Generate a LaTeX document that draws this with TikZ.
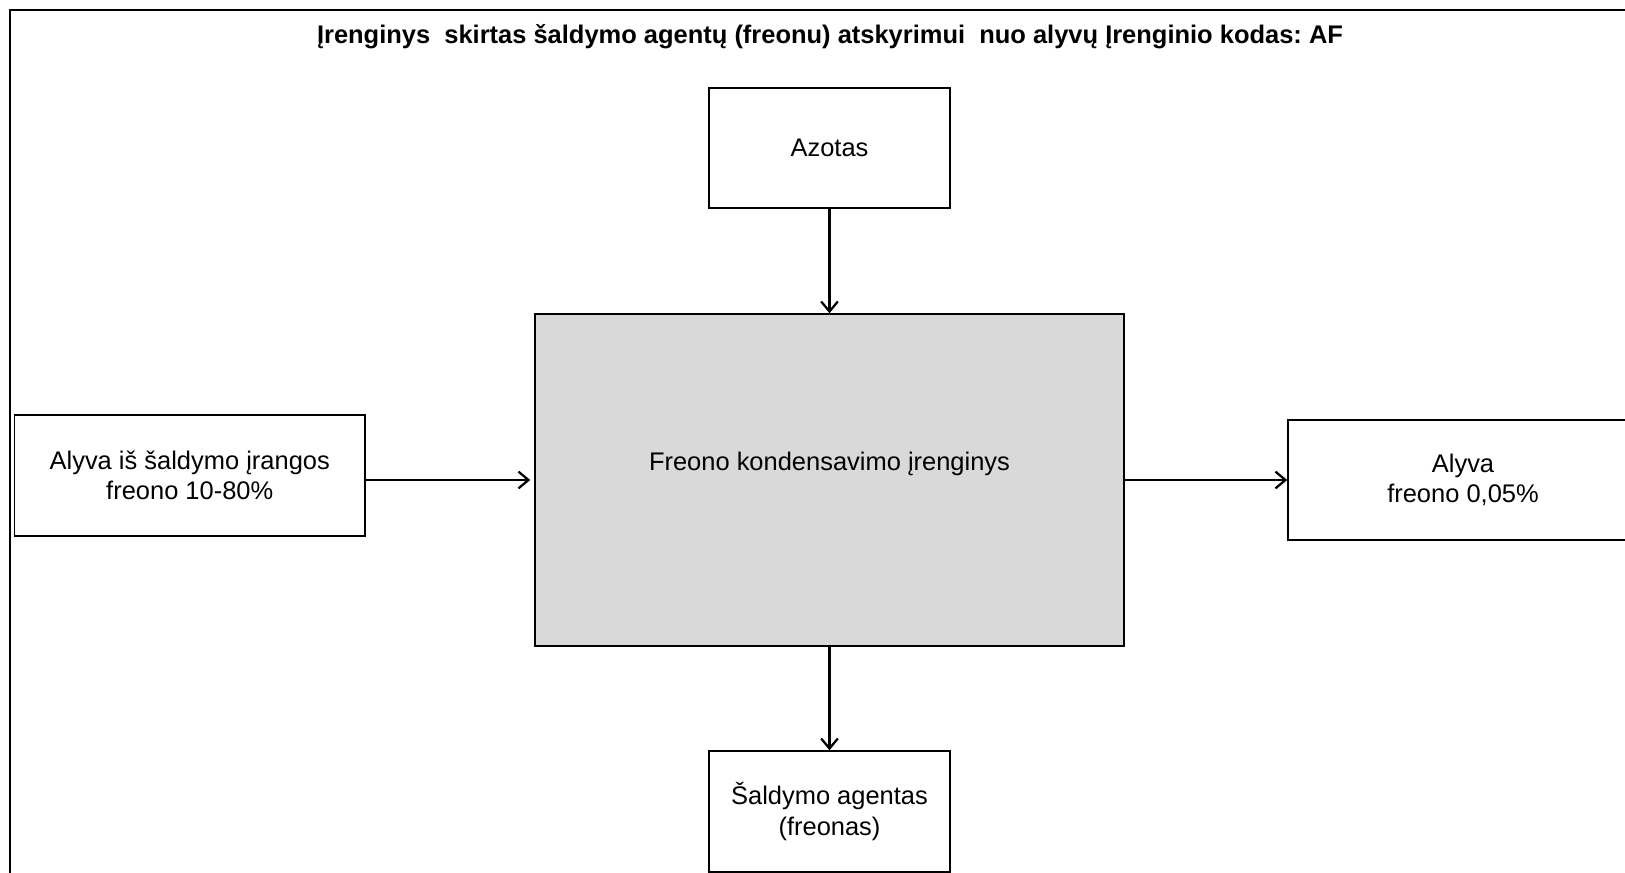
\documentclass[tikz,border=0pt]{standalone}
\usepackage{fontspec}
\setmainfont{Liberation Sans}
\usetikzlibrary{arrows.meta}
\frenchspacing
\begin{document}
\begin{tikzpicture}[x=0.75pt,y=-0.75pt,
  txt/.style={font=\fontsize{19.1}{23}\selectfont, align=center, text=black},
  box/.style={txt, draw=black, line width=1.1pt, fill=white, inner sep=0pt},
  arr/.style={line width=1.7pt, -{Straight Barb[length=7.5pt,width=12.5pt]}},
]
\clip (0,0) rectangle (1625,873);
\fill[white] (0,0) rectangle (1625,873);
% outer frame (runs off the right and bottom edges)
\draw[line width=1.6pt] (1625,10) -- (10,10) -- (10,873);
% title
\node[txt, font=\fontsize{19.1}{23}\selectfont\bfseries, anchor=base] (title) at (830,43.5)
  {Įrenginys\ \ skirtas šaldymo agentų (freonu) atskyrimui\ \ nuo alyvų Įrenginio kodas: AF};
% boxes
\node[box, minimum width=180.75pt, minimum height=90pt] (azot) at (829.5,148) {Azotas};
\node[box, fill={rgb,255:red,217;green,217;blue,217}, minimum width=441.75pt, minimum height=249pt] (dev) at (829.5,480) {};
\node[txt, anchor=base] (devlbl) at (829.5,471) {Freono kondensavimo įrenginys};
\node[box, minimum width=262.9pt, minimum height=90.75pt] (in) at (189.75,475.5) {Alyva iš šaldymo įrangos\\freono 10-80\%};
\node[box, minimum width=262.5pt, minimum height=90pt] (out) at (1463,480) {Alyva\\freono 0,05\%};
\node[box, minimum width=180.75pt, minimum height=90.75pt] (fr) at (829.5,811.5) {Šaldymo agentas\\(freonas)};
% flows
\draw[arr] (azot.south) -- (dev.north);
\draw[arr] (dev.south) -- (fr.north);
\draw[arr] (in.east |- dev.center) -- ([xshift=-3pt]dev.west);
\draw[arr] (dev.east) -- (out.west |- dev.center);
\end{tikzpicture}
\end{document}
